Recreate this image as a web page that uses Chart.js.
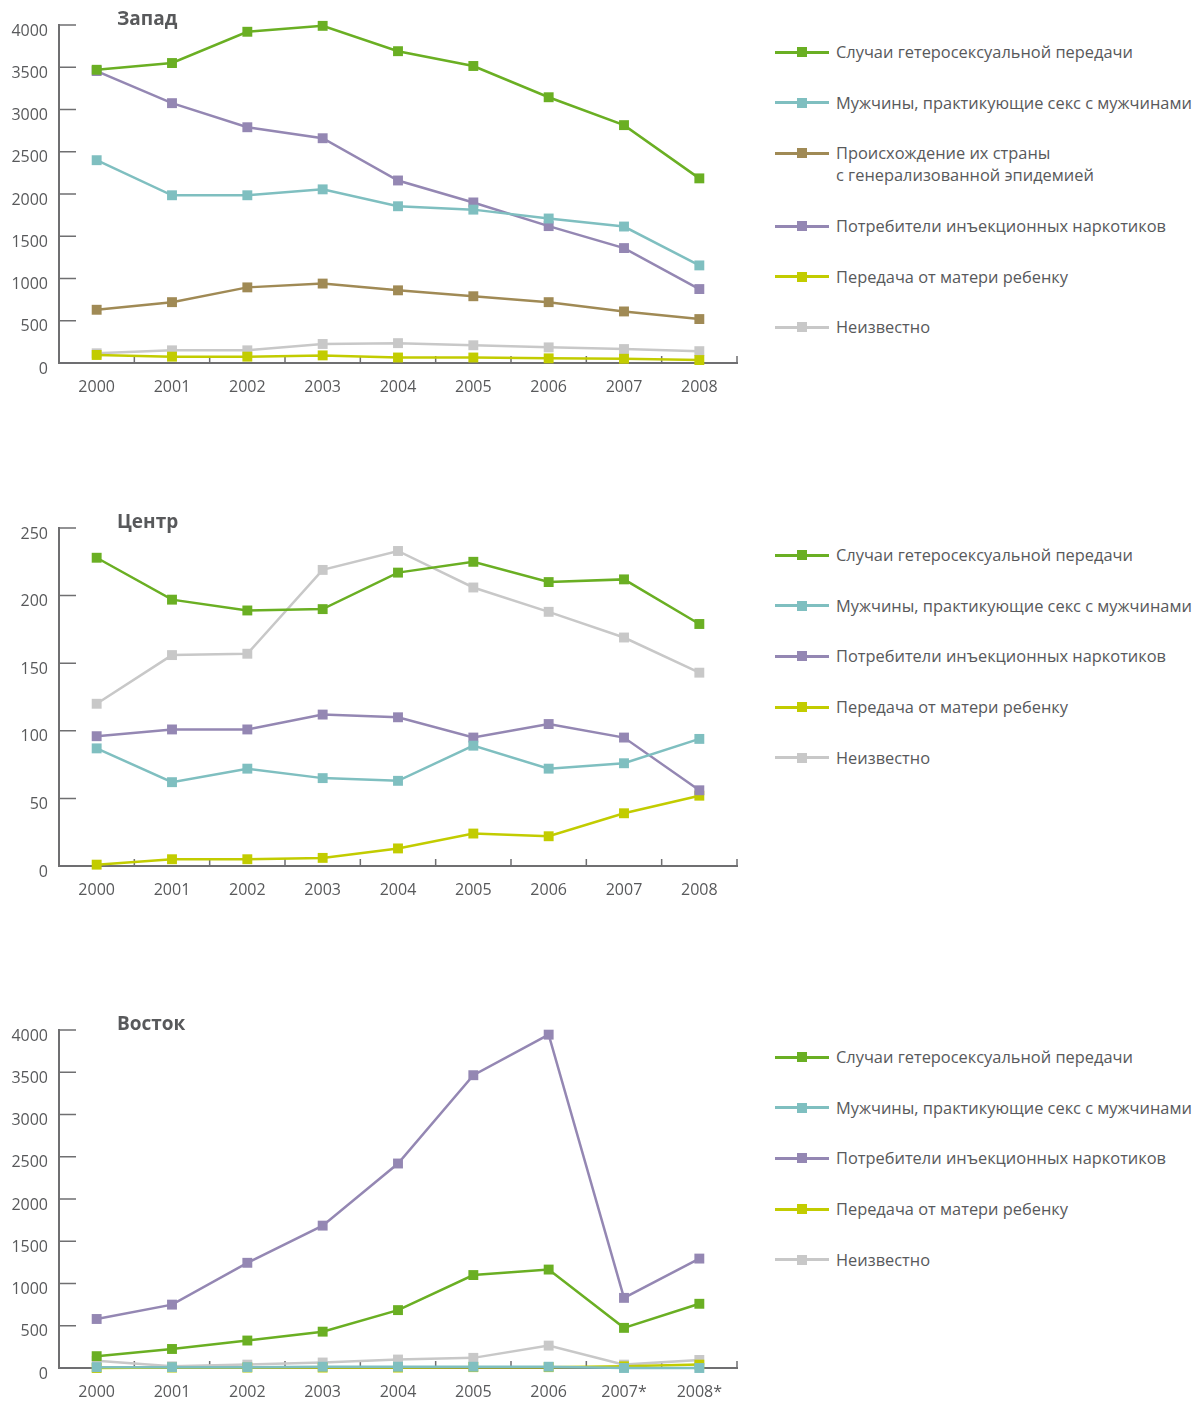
<!DOCTYPE html>
<html lang="ru">
<head>
<meta charset="utf-8">
<script src="https://cdn.jsdelivr.net/npm/chart.js@4/dist/chart.umd.min.js"></script>
<style>
  body { margin: 0; background: #fff; width: 1203px; height: 1401px; overflow: hidden; position: relative; font-family: "Open Sans", sans-serif; color: #58595b; }
  .block { position: absolute; left: 0; width: 1203px; height: 400px; }
  .block canvas { position: absolute; left: 0; top: 0; }
  .title { position: absolute; left: 117px; top: 6px; font-weight: 700; font-size: 19px; line-height: 24px; }
  .legend { position: absolute; left: 775px; top: 41px; }
  .item { position: relative; padding-left: 61px; font-size: 16.4px; line-height: 22px; margin-bottom: 28.7px; white-space: pre-line; }
  .item .ln { position: absolute; left: 0; top: 9.5px; width: 54px; height: 3px; }
  .item .mk { position: absolute; left: 22px; top: 6px; width: 10px; height: 10px; }
</style>
</head>
<body>
<div class="block" style="top:0px"><canvas id="west" width="760" height="400"></canvas><div class="title">Запад</div><div class="legend" id="westLegend"></div></div>
<div class="block" style="top:503px"><canvas id="centre" width="760" height="400"></canvas><div class="title">Центр</div><div class="legend" id="centreLegend"></div></div>
<div class="block" style="top:1005px"><canvas id="east" width="760" height="400"></canvas><div class="title">Восток</div><div class="legend" id="eastLegend"></div></div>
<script>
const years = ['2000', '2001', '2002', '2003', '2004', '2005', '2006', '2007', '2008']
const yearsEast = ['2000', '2001', '2002', '2003', '2004', '2005', '2006', '2007*', '2008*']

const nameHetero = 'Случаи гетеросексуальной передачи'
const nameMsm = 'Мужчины, практикующие секс с мужчинами'
const nameOrigin = 'Происхождение их страны\nс генерализованной эпидемией'
const nameIdu = 'Потребители инъекционных наркотиков'
const nameMtct = 'Передача от матери ребенку'
const nameUnknown = 'Неизвестно'

// West
const westHetero = [3470, 3550, 3920, 3990, 3690, 3515, 3145, 2815, 2185]
const westMsm = [2400, 1985, 1985, 2055, 1855, 1815, 1710, 1615, 1155]
const westOrigin = [630, 720, 895, 940, 860, 790, 720, 610, 520]
const westIdu = [3455, 3075, 2790, 2660, 2160, 1900, 1620, 1360, 875]
const westMtct = [95, 75, 75, 90, 65, 65, 55, 50, 35]
const westUnknown = [115, 150, 150, 225, 235, 210, 185, 165, 140]

// Centre
const centreHetero = [228, 197, 189, 190, 217, 225, 210, 212, 179]
const centreMsm = [87, 62, 72, 65, 63, 89, 72, 76, 94]
const centreIdu = [96, 101, 101, 112, 110, 95, 105, 95, 56]
const centreMtct = [1, 5, 5, 6, 13, 24, 22, 39, 52]
const centreUnknown = [120, 156, 157, 219, 233, 206, 188, 169, 143]

// East
const eastHetero = [140, 225, 325, 430, 685, 1100, 1165, 475, 760]
const eastMsm = [10, 10, 10, 15, 15, 15, 15, 0, 0]
const eastIdu = [580, 750, 1245, 1685, 2420, 3465, 3945, 830, 1295]
const eastMtct = [0, 5, 5, 5, 5, 10, 10, 20, 40]
const eastUnknown = [85, 20, 40, 65, 100, 120, 265, 40, 95]

const colours = {
  hetero: '#6aaf23',
  msm: '#7fbfc0',
  origin: '#a08a55',
  idu: '#9487b3',
  mtct: '#c2cc00',
  unknown: '#c8c8c8'
}
const axisColour = '#6f6f71'
const textColour = '#58595b'

// small tick marks pointing into the plot, like the original
const innerTicks = {
  id: 'innerTicks',
  beforeDatasetsDraw(chart) {
    const { ctx, chartArea, scales: { x, y } } = chart
    ctx.save()
    ctx.strokeStyle = axisColour
    ctx.lineWidth = 1.5
    ctx.beginPath()
    y.ticks.forEach(t => {
      const py = y.getPixelForValue(t.value)
      ctx.moveTo(chartArea.left, py)
      ctx.lineTo(chartArea.left + 17, py)
    })
    for (let k = 0; k < x.getLabels().length; k++) {
      const px = x.getPixelForValue(k + 0.5)
      ctx.moveTo(px, chartArea.bottom)
      ctx.lineTo(px, chartArea.bottom - 7)
    }
    ctx.stroke()
    ctx.restore()
  }
}

function buildLegend(id, series) {
  const box = document.getElementById(id)
  series.forEach(s => {
    const item = document.createElement('div')
    item.className = 'item'
    item.innerHTML = `<span class="ln" style="background:${s.colour}"></span><span class="mk" style="background:${s.colour}"></span>`
    item.appendChild(document.createTextNode(s.name))
    box.appendChild(item)
  })
}

function makeChart(id, labels, max, step, series) {
  new Chart(document.getElementById(id), {
    type: 'line',
    data: {
      labels: labels,
      datasets: series.map(s => ({
        label: s.name,
        data: s.data,
        borderColor: s.colour,
        backgroundColor: s.colour,
        borderWidth: 2.5,
        pointStyle: 'rect',
        pointRadius: 7,
        pointBorderWidth: 0,
        tension: 0,
        clip: false
      }))
    },
    options: {
      responsive: false,
      animation: false,
      layout: { padding: { top: 25, right: 23, left: 0, bottom: 0 } },
      plugins: { legend: { display: false }, tooltip: { enabled: false } },
      scales: {
        x: {
          type: 'category',
          offset: true,
          grid: { display: false },
          border: { display: true, color: axisColour, width: 2 },
          ticks: {
            autoSkip: false,
            maxRotation: 0,
            padding: 7,
            color: textColour,
            font: { family: 'Open Sans', size: 16 }
          },
          afterFit: s => { s.height = 37; s.paddingLeft = 0; s.paddingRight = 0 }
        },
        y: {
          min: 0,
          max: max,
          grid: { display: false },
          border: { display: true, color: axisColour, width: 2 },
          ticks: {
            stepSize: step,
            padding: 3,
            labelOffset: 6,
            color: textColour,
            font: { family: 'Open Sans', size: 16 },
            callback: v => String(v)
          },
          afterFit: s => { s.width = 59; s.paddingTop = 0; s.paddingBottom = 0 }
        }
      }
    },
    plugins: [innerTicks]
  })
  buildLegend(id + 'Legend', series)
}

makeChart('west', years, 4000, 500, [
  { name: nameHetero, colour: colours.hetero, data: westHetero },
  { name: nameMsm, colour: colours.msm, data: westMsm },
  { name: nameOrigin, colour: colours.origin, data: westOrigin },
  { name: nameIdu, colour: colours.idu, data: westIdu },
  { name: nameMtct, colour: colours.mtct, data: westMtct },
  { name: nameUnknown, colour: colours.unknown, data: westUnknown }
])

makeChart('centre', years, 250, 50, [
  { name: nameHetero, colour: colours.hetero, data: centreHetero },
  { name: nameMsm, colour: colours.msm, data: centreMsm },
  { name: nameIdu, colour: colours.idu, data: centreIdu },
  { name: nameMtct, colour: colours.mtct, data: centreMtct },
  { name: nameUnknown, colour: colours.unknown, data: centreUnknown }
])

makeChart('east', yearsEast, 4000, 500, [
  { name: nameHetero, colour: colours.hetero, data: eastHetero },
  { name: nameMsm, colour: colours.msm, data: eastMsm },
  { name: nameIdu, colour: colours.idu, data: eastIdu },
  { name: nameMtct, colour: colours.mtct, data: eastMtct },
  { name: nameUnknown, colour: colours.unknown, data: eastUnknown }
])
</script>
</body>
</html>
